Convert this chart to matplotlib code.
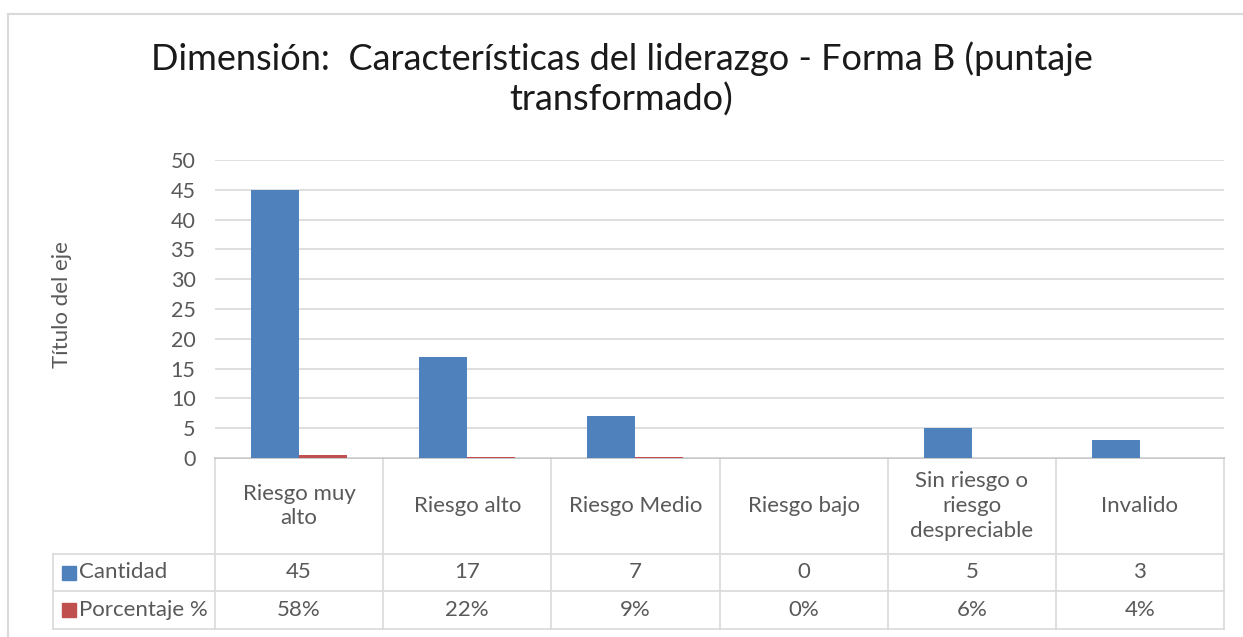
import matplotlib.pyplot as plt
from matplotlib.transforms import blended_transform_factory
import numpy as np

categorias = ['Riesgo muy\nalto', 'Riesgo alto', 'Riesgo Medio', 'Riesgo bajo',
              'Sin riesgo o\nriesgo\ndespreciable', 'Invalido']
cantidad = [45, 17, 7, 0, 5, 3]
porcentaje = [0.58, 0.22, 0.09, 0.00, 0.06, 0.04]
series = ['Cantidad', 'Porcentaje %']
yticks = [0, 5, 10, 15, 20, 25, 30, 35, 40, 45, 50]

azul = '#4F81BD'
rojo = '#C0504D'
gris = '#595959'
linea = '#d9d9d9'
fuente = ['Lato', 'DejaVu Sans']

W, H = 1243, 637
fig = plt.figure(figsize=(W / 100, H / 100), dpi=100)

# capa de fondo en pixeles para marco, tabla y textos
bg = fig.add_axes([0, 0, 1, 1])
bg.set_xlim(0, W)
bg.set_ylim(H, 0)
bg.axis('off')

left, right, y0, y50 = 215, 1224, 458, 160
ax = fig.add_axes([left / W, (H - y0) / H, (right - left) / W, (y0 - y50) / H])
ax.patch.set_alpha(0)

x = np.arange(len(categorias))
w = 0.285
ax.bar(x - w / 2, cantidad, width=w, color=azul, zorder=3)
ax.bar(x + w / 2, porcentaje, width=w, color=rojo, zorder=3)

ax.set_xlim(-0.5, len(categorias) - 0.5)
ax.set_ylim(0, 50)
ax.set_yticks(yticks)
ax.set_xticks([])
ax.grid(axis='y', color=linea, linewidth=1.2, zorder=0)
for s in ax.spines.values():
    s.set_visible(False)
ax.tick_params(axis='y', length=0, pad=14, labelsize=15.5, labelcolor=gris)
for t in ax.get_yticklabels():
    t.set_family(fuente)

# marco del grafico
bg.plot([8, W], [14, 14], color=linea, lw=1.5)
bg.plot([8, 8], [14, H], color=linea, lw=1.5)

fig.text(0.5, (H - 79) / H, 'Dimensión:  Características del liderazgo - Forma B (puntaje\ntransformado)',
         ha='center', va='center', fontsize=26, color='#1a1a1a', family=fuente, linespacing=1.2)

bg.text(62, 305, 'Título del eje', rotation=90, ha='center', va='center',
        fontsize=16, color=gris, family=fuente)

# tabla de datos
tr = blended_transform_factory(ax.transData, bg.transData)
r0, r1, r2, r3 = 458, 554, 591, 629
tl = 53
bordes = np.arange(len(categorias) + 1) - 0.5
for b in bordes:
    bg.plot([b, b], [r0, r3], color=linea, lw=1.2, transform=tr, clip_on=False)
for yy in (r1, r2, r3):
    bg.plot([tl, right], [yy, yy], color=linea, lw=1.2)
bg.plot([tl, tl], [r1, r3], color=linea, lw=1.2)
bg.plot([left, right], [r0, r0], color='#bfbfbf', lw=1.2)

for i, cat in enumerate(categorias):
    bg.text(i, (r0 + r1) / 2, cat, transform=tr, ha='center', va='center',
            fontsize=16, color=gris, family=fuente, linespacing=1.3, clip_on=False)
    bg.text(i, (r1 + r2) / 2, str(cantidad[i]), transform=tr, ha='center', va='center',
            fontsize=16, color=gris, family=fuente, clip_on=False)
    bg.text(i, (r2 + r3) / 2, f'{porcentaje[i]:.0%}', transform=tr, ha='center', va='center',
            fontsize=16, color=gris, family=fuente, clip_on=False)

for nombre, color, (ya, yb) in zip(series, [azul, rojo], [(r1, r2), (r2, r3)]):
    yc = (ya + yb) / 2
    bg.add_patch(plt.Rectangle((62, yc - 7), 14, 14, color=color))
    bg.text(79, yc, nombre, ha='left', va='center', fontsize=16, color=gris, family=fuente)

fig.savefig('out.png', dpi=100, facecolor='white')
